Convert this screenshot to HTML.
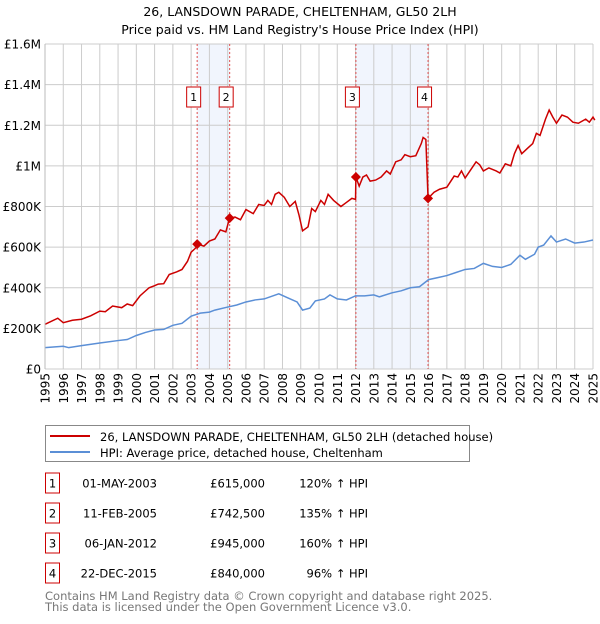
<!DOCTYPE html>
<html><head><meta charset="utf-8"><style>
body{margin:0;background:#fff;font-family:"DejaVu Sans","Liberation Sans",sans-serif;}
svg text{font-family:"DejaVu Sans","Liberation Sans",sans-serif;}
</style></head><body>
<svg id="c" width="600" height="620" xmlns="http://www.w3.org/2000/svg">
<text x="300" y="16" text-anchor="middle" font-size="12.5" fill="#000">26, LANSDOWN PARADE, CHELTENHAM, GL50 2LH</text>
<text x="300" y="34" text-anchor="middle" font-size="12.5" fill="#000">Price paid vs. HM Land Registry's House Price Index (HPI)</text>
<g id="plot"></g>
<g>
<rect x="45.5" y="425.5" width="424" height="36" fill="#fff" stroke="#888"/>
<line x1="50" y1="436" x2="90" y2="436" stroke="#cc0000" stroke-width="2"/>
<text x="100" y="441" font-size="11.5">26, LANSDOWN PARADE, CHELTENHAM, GL50 2LH (detached house)</text>
<line x1="50" y1="452" x2="90" y2="452" stroke="#5b8fd6" stroke-width="2"/>
<text x="100" y="457" font-size="11.5">HPI: Average price, detached house, Cheltenham</text>
</g>
<g id="table"></g>
<text x="45" y="600" font-size="11.5" fill="#777">Contains HM Land Registry data © Crown copyright and database right 2025.</text>
<text x="45" y="611" font-size="11.5" fill="#777">This data is licensed under the Open Government Licence v3.0.</text>
</svg>
<script>
const yTicks=[0,200,400,600,800,1000,1200,1400,1600];
const yTickLabels=["£0","£200K","£400K","£600K","£800K","£1M","£1.2M","£1.4M","£1.6M"];
const years=[1995,1996,1997,1998,1999,2000,2001,2002,2003,2004,2005,2006,2007,2008,2009,2010,2011,2012,2013,2014,2015,2016,2017,2018,2019,2020,2021,2022,2023,2024,2025];
const priceX=[1995.0,1995.7,1996.0,1996.5,1997.0,1997.5,1998.0,1998.3,1998.7,1999.2,1999.5,1999.8,2000.2,2000.7,2001.0,2001.2,2001.5,2001.8,2002.2,2002.5,2002.8,2003.0,2003.3,2003.35,2003.7,2004.0,2004.3,2004.6,2004.9,2005.1,2005.4,2005.7,2006.0,2006.4,2006.7,2007.0,2007.2,2007.4,2007.6,2007.8,2008.1,2008.4,2008.7,2008.9,2009.1,2009.4,2009.6,2009.8,2010.1,2010.3,2010.5,2010.8,2011.2,2011.5,2011.8,2012.0,2012.02,2012.2,2012.4,2012.6,2012.8,2013.1,2013.4,2013.7,2013.9,2014.2,2014.5,2014.7,2015.0,2015.3,2015.6,2015.7,2015.85,2015.97,2016.3,2016.6,2017.0,2017.4,2017.6,2017.8,2018.0,2018.3,2018.6,2018.8,2019.0,2019.3,2019.7,2019.9,2020.2,2020.5,2020.7,2020.9,2021.1,2021.4,2021.7,2021.9,2022.1,2022.4,2022.6,2022.8,2023.0,2023.3,2023.6,2023.9,2024.2,2024.6,2024.8,2025.0,2025.1];
const priceY=[220,250,228,240,245,262,285,282,310,302,320,312,360,400,410,418,420,465,478,490,530,575,600,615,605,630,640,685,675,742,748,735,785,765,810,805,830,810,860,870,845,800,825,760,680,700,790,775,830,810,860,830,800,820,840,835,945,900,945,955,925,930,945,975,960,1020,1030,1055,1045,1050,1110,1140,1130,840,870,885,895,950,945,975,940,980,1020,1005,975,990,975,965,1010,1000,1060,1100,1060,1085,1110,1160,1150,1230,1275,1240,1210,1250,1240,1215,1210,1230,1215,1240,1225];
const hpiX=[1995,1996,1996.3,1997,1998,1999,1999.5,2000,2000.5,2001,2001.5,2002,2002.5,2003,2003.5,2004,2004.3,2005,2005.5,2006,2006.5,2007,2007.8,2008.3,2008.8,2009.1,2009.5,2009.8,2010.3,2010.6,2011,2011.5,2012,2012.5,2013,2013.3,2014,2014.5,2015,2015.5,2016,2016.5,2017,2017.5,2018,2018.5,2019,2019.5,2020,2020.5,2021,2021.3,2021.8,2022,2022.3,2022.7,2023,2023.5,2024,2024.5,2025];
const hpiY=[105,112,105,115,128,140,145,165,180,192,195,215,225,260,275,280,290,305,315,330,340,345,370,350,330,290,300,335,345,365,345,340,360,360,365,355,375,385,400,405,440,450,460,475,490,495,520,505,500,515,560,540,565,600,610,655,625,640,620,625,635];
const saleLabels=["1","2","3","4"];
const saleX=[2003.33,2005.11,2012.02,2015.97];
const saleY=[615,742.5,945,840];
const saleDates=["01-MAY-2003","11-FEB-2005","06-JAN-2012","22-DEC-2015"];
const salePrices=["£615,000","£742,500","£945,000","£840,000"];
const saleHpi=["120% ↑ HPI","135% ↑ HPI","160% ↑ HPI","96% ↑ HPI"];

const X0=45,X1=593,Y0=369,Y1=44;
const sx=v=>X0+(v-1995)/(2025-1995)*(X1-X0);
const sy=v=>Y0-v/1600*(Y0-Y1);
const NS="http://www.w3.org/2000/svg";
function mk(parent,tag,attrs){const e=document.createElementNS(NS,tag);for(const k in attrs)e.setAttribute(k,attrs[k]);parent.appendChild(e);return e;}
const plot=document.getElementById('plot');
mk(plot,'rect',{x:X0,y:Y1,width:X1-X0,height:Y0-Y1,fill:'#fff'});
for(let i=0;i<saleX.length;i+=2){
 const r=mk(plot,'rect',{x:sx(saleX[i]),y:Y1,width:sx(saleX[i+1])-sx(saleX[i]),height:Y0-Y1,fill:'#eef3fc',opacity:0.8});
 
 
}
years.forEach(y=>{
 const l=mk(plot,'line',{x1:sx(y),x2:sx(y),y1:Y1,y2:Y0,stroke:'#cccccc','stroke-width':1});
 
 
 const t=mk(plot,'text',{x:0,y:0,'font-size':12,'text-anchor':'end',transform:`translate(${sx(y)+4.5},373) rotate(-90)`});
 t.textContent=y;
 
 
});
yTicks.forEach((v,i)=>{
 const l=mk(plot,'line',{x1:X0,x2:X1,y1:sy(v),y2:sy(v),stroke:'#cccccc','stroke-width':1});
 
 
 const t=mk(plot,'text',{x:41,y:sy(v)+4.5,'font-size':12,'text-anchor':'end'});
 t.textContent=yTickLabels[i];
 
 
});
saleX.forEach((x,i)=>{
 const l=mk(plot,'line',{x1:sx(x),x2:sx(x),y1:Y1,y2:Y0,stroke:'#e05050','stroke-width':1,'stroke-dasharray':'2,2'});
 
 
});
const hp=mk(plot,'polyline',{points:hpiX.map((x,i)=>sx(x)+','+sy(hpiY[i])).join(' '),fill:'none',stroke:'#5b8fd6','stroke-width':1.5});


const pp=mk(plot,'polyline',{points:priceX.map((x,i)=>sx(x)+','+sy(priceY[i])).join(' '),fill:'none',stroke:'#cc0000','stroke-width':1.5});


saleX.forEach((x,i)=>{
 const cx=sx(x),cy=sy(saleY[i]);
 const d=mk(plot,'polygon',{points:`${cx},${cy-5} ${cx+5},${cy} ${cx},${cy+5} ${cx-5},${cy}`,fill:'#cc0000'});
 
 
 const g=mk(plot,'g',{});
 
 
 mk(g,'rect',{x:cx-10.5,y:87,width:14,height:20,fill:'#fff',stroke:'#cc0000'});
 const t=mk(g,'text',{x:cx-3.5,y:101,'font-size':11,'text-anchor':'middle'});
 t.textContent=saleLabels[i];
});
mk(plot,'line',{x1:X0,x2:X0,y1:Y1,y2:Y0,stroke:'#bbb'});
const tb=document.getElementById('table');
saleLabels.forEach((s,i)=>{
 const y=483+i*30;
 const g=mk(tb,'g',{});
 
 
 mk(g,'rect',{x:45.5,y:y-10,width:14,height:20,fill:'#fff',stroke:'#cc0000'});
 let t=mk(g,'text',{x:52.5,y:y+4.5,'font-size':11.5,'text-anchor':'middle'});t.textContent=s;
 t=mk(g,'text',{x:157,y:y+4.5,'font-size':11.5,'text-anchor':'end'});t.textContent=saleDates[i];
 t=mk(g,'text',{x:265,y:y+4.5,'font-size':11.5,'text-anchor':'end'});t.textContent=salePrices[i];
 t=mk(g,'text',{x:368,y:y+4.5,'font-size':11.5,'text-anchor':'end'});t.textContent=saleHpi[i];
});
</script>
</body></html>
